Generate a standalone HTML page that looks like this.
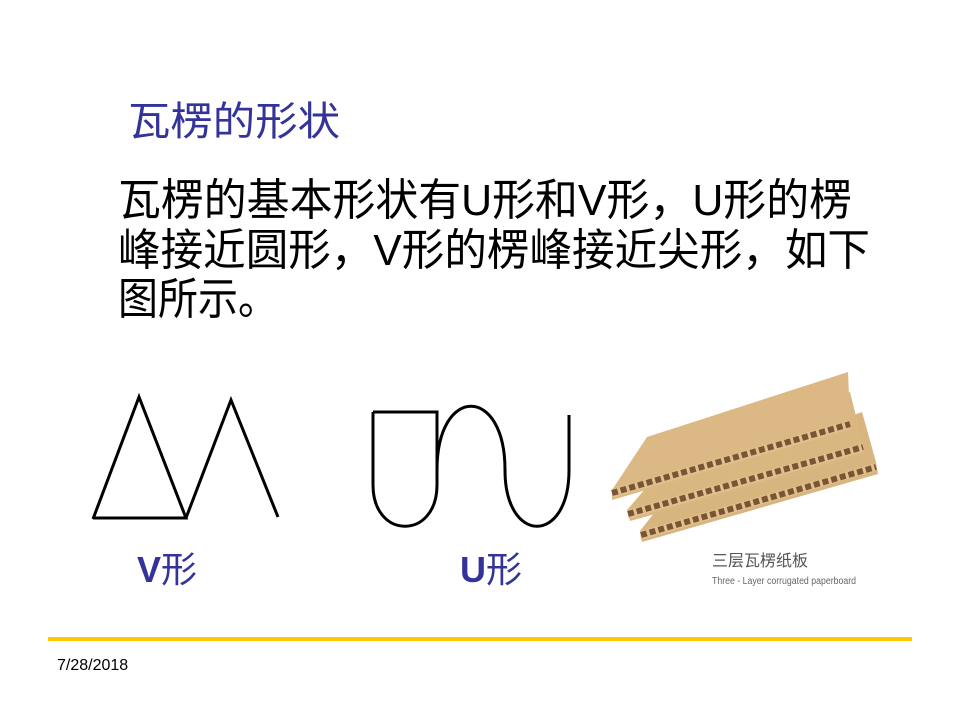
<!DOCTYPE html>
<html><head><meta charset="utf-8"><style>
html,body{margin:0;padding:0;background:#fff;}
svg{display:block;}
</style></head><body>
<svg width="960" height="720" viewBox="0 0 960 720" xmlns="http://www.w3.org/2000/svg">
<rect width="960" height="720" fill="#fff"/>
<text x="128" y="135" font-family="'Liberation Sans','Noto Sans CJK SC',sans-serif" font-size="40" fill="#33339a" textLength="212" lengthAdjust="spacingAndGlyphs">瓦楞的形状</text>
<g font-family="'Liberation Sans','Noto Sans CJK SC',sans-serif" font-size="44" fill="#000">
<text x="118" y="215" textLength="734" lengthAdjust="spacingAndGlyphs">瓦楞的基本形状有U形和V形，U形的楞</text>
<text x="118" y="265" textLength="752" lengthAdjust="spacingAndGlyphs">峰接近圆形，V形的楞峰接近尖形，如下</text>
<text x="118" y="314" textLength="160" lengthAdjust="spacingAndGlyphs">图所示。</text>
</g>
<g fill="none" stroke="#000" stroke-width="3" stroke-linejoin="miter">
<polyline points="93,519 139,397 186,518 93,518"/>
<polyline points="186,518 231,400 278,517"/>
<path d="M373,412 H437 V485 C437,540 373,540 373,485 V412"/>
<path d="M437,470 C437,385 505,385 505,470 C505,545 569,545 569,470 V415"/>
</g>
<g font-family="'Liberation Sans','Noto Sans CJK SC',sans-serif" font-size="36" fill="#33339a">
<text x="137" y="582"><tspan font-weight="bold">V</tspan>形</text>
<text x="460" y="582"><tspan font-weight="bold">U</tspan>形</text>
</g>
<!-- cardboard -->
<g>
<!-- layer 3 -->
<polygon points="680,480 862,412 876,462 878,474 642,542 640,531" fill="#d8b47f"/>
<polygon points="640,531 876,463 876,471 641,540" fill="#e0c08c"/>
<line x1="641" y1="535" x2="876" y2="467" stroke="#7a5535" stroke-width="6" stroke-dasharray="6 3"/>
<!-- layer 2 -->
<polygon points="670,460 850,392 862,440 865,455 630,521 627,510" fill="#dab680"/>
<polygon points="627,510 863,443 863,452 629,519" fill="#e0c08c"/>
<line x1="628" y1="514" x2="863" y2="447" stroke="#7a5535" stroke-width="6" stroke-dasharray="6 3"/>
<!-- layer 1 -->
<polygon points="647,437 848,372 850,420 850,430 612,500 612,490" fill="#dcb984"/>
<polygon points="612,489 850,420 850,429 612,498" fill="#e0c08c"/>
<line x1="612" y1="493" x2="850" y2="424" stroke="#7a5535" stroke-width="6" stroke-dasharray="6 3"/>
</g>
<text x="712" y="566" font-family="'Liberation Sans','Noto Sans CJK SC',sans-serif" font-size="16" fill="#555">三层瓦楞纸板</text>
<text x="712" y="584" font-family="'Liberation Sans',sans-serif" font-size="10" fill="#666" textLength="144" lengthAdjust="spacingAndGlyphs">Three - Layer corrugated paperboard</text>
<rect x="48" y="637" width="864" height="4" fill="#ffc800"/>
<text x="57" y="670" font-family="'Liberation Sans',sans-serif" font-size="16" fill="#000">7/28/2018</text>
</svg>
</body></html>
